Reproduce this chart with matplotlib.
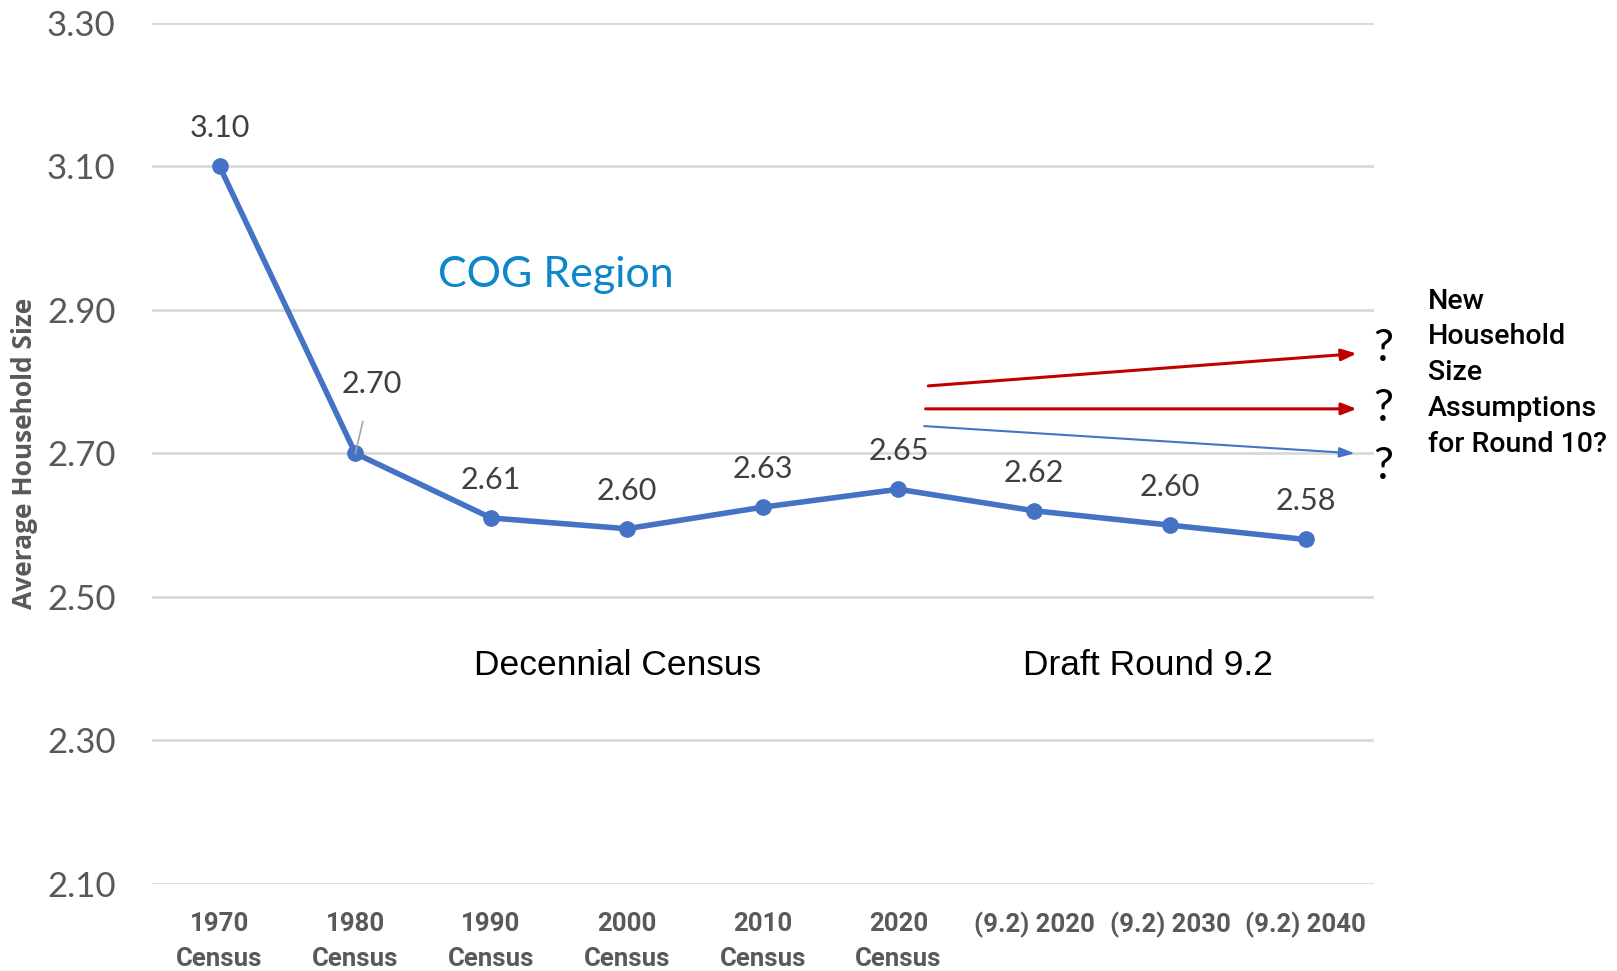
import matplotlib
matplotlib.use("Agg")
import matplotlib.pyplot as plt

# data
categories = ["1970\nCensus", "1980\nCensus", "1990\nCensus", "2000\nCensus", "2010\nCensus",
              "2020\nCensus", "(9.2) 2020", "(9.2) 2030", "(9.2) 2040"]
hh_size = [3.10, 2.70, 2.61, 2.595, 2.625, 2.65, 2.62, 2.60, 2.58]
point_labels = ["3.10", "2.70", "2.61", "2.60", "2.63", "2.65", "2.62", "2.60", "2.58"]
y_ticks = [2.10, 2.30, 2.50, 2.70, 2.90, 3.10, 3.30]

# hand drawn "what next" arrows after 2020 (start x, start y, end x, end y)
arrows_red = [(5.22, 2.794, 8.375, 2.839), (5.20, 2.762, 8.375, 2.762)]
arrow_blue = (5.19, 2.738, 8.36, 2.70)
qmark_y = [2.846, 2.762, 2.682]

plt.rcParams['font.family'] = ['Lato', 'DejaVu Sans']

fig = plt.figure(figsize=(16.17, 9.71), dpi=100)
ax = fig.add_axes([0.0938, 0.0896, 0.7557, 0.887])

x = list(range(len(categories)))
ax.plot(x, hh_size, color="#4472C4", lw=4, marker="o", ms=11, zorder=3)

for i, (v, lab) in enumerate(zip(hh_size, point_labels)):
    if i == 1:
        ax.annotate(lab, xy=(i, v), xytext=(i + 0.12, v + 0.096), ha="center", va="center",
                    fontsize=22, color="#404040",
                    arrowprops=dict(arrowstyle="-", color="#A6A6A6", lw=1.2, shrinkA=15, shrinkB=0))
    else:
        ax.text(i, v + 0.053, lab, ha="center", va="center", fontsize=22, color="#404040")

for x0, y0, x1, y1 in arrows_red:
    ax.annotate("", xy=(x1, y1), xytext=(x0, y0), annotation_clip=False,
                arrowprops=dict(arrowstyle="-|>,head_length=0.9,head_width=0.35",
                                color="#C00000", lw=2.2, shrinkA=0, shrinkB=0))
x0, y0, x1, y1 = arrow_blue
ax.annotate("", xy=(x1, y1), xytext=(x0, y0), annotation_clip=False,
            arrowprops=dict(arrowstyle="-|>,head_length=0.9,head_width=0.3",
                            color="#4472C4", lw=1.5, shrinkA=0, shrinkB=0))
for qy in qmark_y:
    ax.text(8.57, qy, "?", ha="center", va="center", fontsize=32, color="black", clip_on=False)

ax.text(8.9, 2.931, "New\nHousehold\nSize\nAssumptions\nfor Round 10?", ha="left", va="top",
        fontsize=20.5, fontweight="medium", color="black", linespacing=1.42, clip_on=False,
        family=['Roboto', 'DejaVu Sans'])

ax.text(2.48, 2.948, "COG Region", ha="center", va="center", fontsize=31, color="#0B87CA")
ax.text(2.93, 2.405, "Decennial Census", ha="center", va="center", fontsize=25.5, color="black",
        family=['Liberation Sans', 'DejaVu Sans'])
ax.text(6.84, 2.405, "Draft Round 9.2", ha="center", va="center", fontsize=25.5, color="black",
        family=['Liberation Sans', 'DejaVu Sans'])

ax.set_xlim(-0.5, 8.5)
ax.set_ylim(2.10, 3.30)
ax.set_yticks(y_ticks)
ax.set_yticklabels([f"{t:.2f}" for t in y_ticks], fontsize=25, color="#595959")
ax.set_xticks(x)
ax.set_xticklabels(categories, fontsize=18.5, color="#595959", fontweight="bold", linespacing=1.6,
                   family=['Roboto', 'DejaVu Sans'])
ax.tick_params(axis="both", length=0)
ax.tick_params(axis="y", pad=26)
ax.tick_params(axis="x", pad=20)
ax.grid(axis="y", color="#D9D9D9", lw=2)
ax.set_axisbelow(True)
for s in ax.spines.values():
    s.set_visible(False)

ax.set_ylabel("Average Household Size", fontsize=19, fontweight="bold", color="#595959",
              family=['Open Sans', 'DejaVu Sans'])
ax.yaxis.set_label_coords(-0.093, 0.5)

fig.savefig("out.png", dpi=100)
